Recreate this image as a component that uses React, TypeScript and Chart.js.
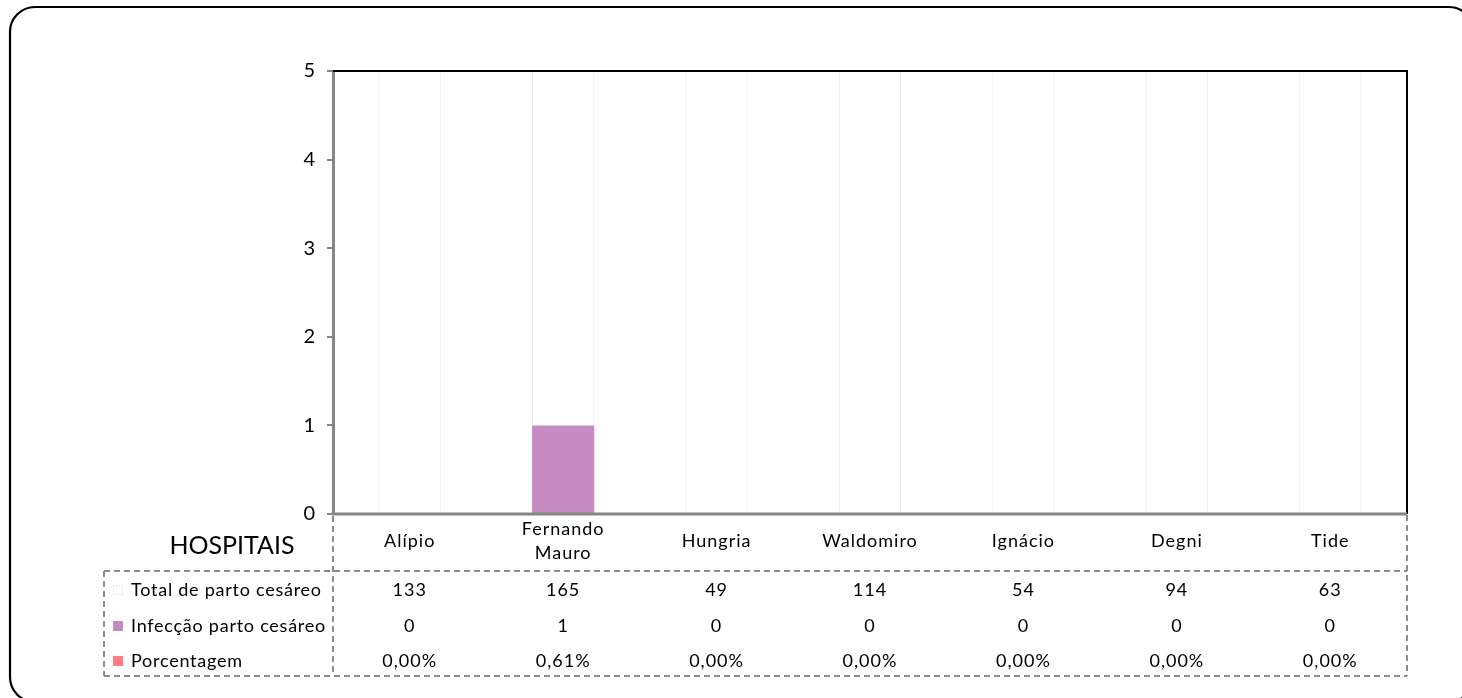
import React, { useEffect, useRef } from "react";
import { Chart, registerables } from "chart.js";

Chart.register(...registerables);

const categories: (string | string[])[] = ["Alípio", ["Fernando", "Mauro"], "Hungria", "Waldomiro", "Ignácio", "Degni", "Tide"];
const seriesNames = ["Total de parto cesáreo", "Infecção parto cesáreo", "Porcentagem"];
const totalPartos = [133, 165, 49, 114, 54, 94, 63];
const infeccoes = [0, 1, 0, 0, 0, 0, 0];
const porcentagens = [0.0, 0.61, 0.0, 0.0, 0.0, 0.0, 0.0];
const yTicks = [0, 1, 2, 3, 4, 5];
const tableTitle = "HOSPITAIS";

const FONT = "Lato, 'Open Sans', sans-serif";
const seriesColors = ["#FFFFFF", "#C58AC0", "#FF7C80"];

const fmtPct = (v: number) => v.toFixed(2).replace(".", ",") + "%";

const W = 1462;
const H = 698;

const tablePlugin = {
  id: "tablePlugin",
  beforeDraw(chart: any) {
    const ctx = chart.ctx;
    ctx.save();
    ctx.fillStyle = "#FFFFFF";
    ctx.fillRect(0, 0, W, H);
    ctx.strokeStyle = "#000000";
    ctx.lineWidth = 2.2;
    ctx.beginPath();
    const x0 = 10, y0 = 7, x1 = 1474, y1 = 702, r = 25;
    ctx.moveTo(x0 + r, y0);
    ctx.lineTo(x1 - r, y0);
    ctx.arcTo(x1, y0, x1, y0 + r, r);
    ctx.lineTo(x1, y1 - r);
    ctx.arcTo(x1, y1, x1 - r, y1, r);
    ctx.lineTo(x0 + r, y1);
    ctx.arcTo(x0, y1, x0, y1 - r, r);
    ctx.lineTo(x0, y0 + r);
    ctx.arcTo(x0, y0, x0 + r, y0, r);
    ctx.closePath();
    ctx.stroke();
    ctx.restore();
  },
  afterDraw(chart: any) {
    const ctx = chart.ctx;
    const area = chart.chartArea;
    const xs = chart.scales.x;
    ctx.save();
    ctx.strokeStyle = "#000000";
    ctx.lineWidth = 2;
    ctx.beginPath();
    ctx.moveTo(area.left, area.top);
    ctx.lineTo(area.right, area.top);
    ctx.lineTo(area.right, area.bottom);
    ctx.stroke();
    ctx.strokeStyle = "#868686";
    ctx.lineWidth = 3;
    ctx.beginPath();
    ctx.moveTo(area.left - 1.5, area.bottom);
    ctx.lineTo(area.right, area.bottom);
    ctx.stroke();

    const rowTop = 571;
    const tableBottom = 676;
    const leftX = 104;
    ctx.strokeStyle = "#8C8C8C";
    ctx.lineWidth = 2;
    ctx.setLineDash([6, 4]);
    ctx.beginPath();
    ctx.moveTo(leftX, rowTop);
    ctx.lineTo(area.right, rowTop);
    ctx.moveTo(leftX, tableBottom);
    ctx.lineTo(area.right, tableBottom);
    ctx.moveTo(leftX, rowTop);
    ctx.lineTo(leftX, tableBottom);
    ctx.moveTo(area.left, area.bottom + 2);
    ctx.lineTo(area.left, tableBottom);
    ctx.moveTo(area.right, area.bottom + 1);
    ctx.lineTo(area.right, tableBottom);
    ctx.stroke();
    ctx.setLineDash([]);

    ctx.fillStyle = "#000000";
    ctx.textAlign = "center";
    ctx.textBaseline = "middle";
    ctx.font = `18px ${FONT}`;
    (ctx as any).letterSpacing = "1px";
    categories.forEach((c, i) => {
      const x = xs.getPixelForValue(i);
      if (Array.isArray(c)) {
        const lh = 24;
        const startY = 541 - ((c.length - 1) * lh) / 2;
        c.forEach((line, j) => ctx.fillText(line, x, startY + j * lh));
      } else {
        ctx.fillText(c, x, 541);
      }
    });
    (ctx as any).letterSpacing = "0px";
    ctx.font = `25px ${FONT}`;
    ctx.textAlign = "center";
    ctx.fillText(tableTitle, 232, 546);

    const rowY = [590, 626, 661];
    const rowValues = [
      totalPartos.map((v) => String(v)),
      infeccoes.map((v) => String(v)),
      porcentagens.map(fmtPct),
    ];
    rowY.forEach((y, r) => {
      ctx.fillStyle = seriesColors[r];
      ctx.fillRect(113, y - 5, 10, 10);
      if (r === 0) {
        ctx.strokeStyle = "#EEEEEE";
        ctx.lineWidth = 1;
        ctx.strokeRect(113.5, y - 4.5, 9, 9);
      }
      ctx.fillStyle = "#000000";
      ctx.textAlign = "left";
      ctx.font = `18px ${FONT}`;
      (ctx as any).letterSpacing = "0.75px";
      ctx.fillText(seriesNames[r], 131, y);
      (ctx as any).letterSpacing = "1px";
      ctx.textAlign = "center";
      rowValues[r].forEach((txt, i) => {
        ctx.fillText(txt, xs.getPixelForValue(i), y);
      });
    });
    (ctx as any).letterSpacing = "0px";
    ctx.restore();
  },
};

export default function App() {
  const ref = useRef<HTMLCanvasElement | null>(null);
  useEffect(() => {
    if (!ref.current) return;
    const labels = categories.map((c) => (Array.isArray(c) ? c.join(" ") : c));
    const chart = new Chart(ref.current, {
      type: "bar",
      data: {
        labels,
        datasets: [
          {
            label: seriesNames[1],
            data: infeccoes,
            backgroundColor: seriesColors[1],
            borderWidth: 0,
            grouped: false,
            order: 1,
          } as any,
          {
            label: seriesNames[2],
            data: porcentagens.map((p) => p / 100),
            backgroundColor: seriesColors[2],
            borderWidth: 0,
            grouped: false,
            order: 2,
          } as any,
          {
            label: seriesNames[0],
            data: totalPartos,
            backgroundColor: seriesColors[0],
            borderColor: "#EBEBEB",
            borderWidth: 1,
            grouped: false,
            order: 3,
          } as any,
        ],
      },
      options: {
        responsive: false,
        animation: false,
        devicePixelRatio: 1,
        layout: { padding: { left: 0, top: 71, right: W - 1407, bottom: H - 514 } },
        datasets: { bar: { categoryPercentage: 1, barPercentage: 0.405 } },
        plugins: { legend: { display: false }, tooltip: { enabled: false } },
        scales: {
          x: { display: false },
          y: {
            min: 0,
            max: 5,
            afterFit: (scale: any) => {
              scale.width = 333;
            },
            afterBuildTicks: (scale: any) => {
              scale.ticks = yTicks.map((v) => ({ value: v }));
            },
            grid: {
              drawOnChartArea: false,
              drawTicks: true,
              tickLength: 6,
              color: "#868686",
              lineWidth: 2,
            },
            border: { color: "#868686", width: 3 },
            ticks: {
              color: "#000000",
              padding: 12,
              font: { family: FONT, size: 20 },
            },
          },
        },
      } as any,
      plugins: [tablePlugin],
    });
    return () => chart.destroy();
  }, []);
  return (
    <div style={{ position: "absolute", left: 0, top: 0, width: W, height: H, overflow: "hidden" }}>
      <canvas ref={ref} width={W} height={H} style={{ display: "block" }} />
    </div>
  );
}
